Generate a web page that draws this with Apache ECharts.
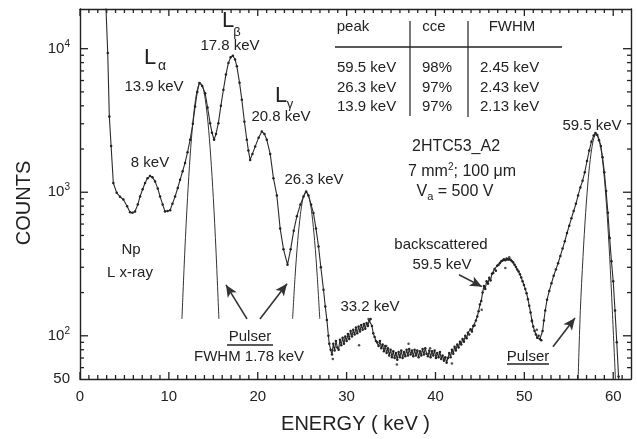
<!DOCTYPE html>
<html>
<head>
<meta charset="utf-8">
<script src="https://cdn.jsdelivr.net/npm/echarts@6/dist/echarts.min.js"></script>
<style>
html,body{margin:0;padding:0;background:#fff;}
#chart{width:637px;height:439px;}
</style>
</head>
<body>
<div id="chart"></div>
<script>
// ---------------- DATA ----------------
const spectrumE = [2.8, 3.12, 3.3, 3.5, 3.75, 4.13, 4.5, 4.88, 5.3, 5.63, 5.9, 6.19, 6.5, 6.76, 7.05, 7.32, 7.6, 7.88, 8.15, 8.45, 8.75, 9.01, 9.3, 9.57, 9.85, 10.14, 10.4, 10.7, 11.0, 11.26, 11.55, 11.82, 12.1, 12.39, 12.7, 12.95, 13.2, 13.43, 13.75, 14.08, 14.35, 14.64, 14.85, 15.09, 15.3, 15.57, 15.85, 16.14, 16.42, 16.7, 16.95, 17.2, 17.45, 17.65, 17.95, 18.21, 18.5, 18.77, 18.95, 19.14, 19.4, 19.71, 20.1, 20.46, 20.75, 21.02, 21.4, 21.77, 22.15, 22.52, 22.9, 23.35, 23.7, 24.05, 24.4, 24.8, 25.15, 25.45, 25.7, 26.0, 26.27, 26.55, 26.84, 27.1, 27.4, 27.6, 27.78,
  27.95, 28.05, 28.2, 28.35, 28.5, 28.65, 28.8, 28.95, 29.1, 29.25, 29.4, 29.55, 29.7, 29.85, 30.0, 30.15, 30.3, 30.45, 30.6, 30.75, 30.9, 31.05, 31.2, 31.35, 31.5, 31.65, 31.8, 31.95, 32.1, 32.25, 32.4, 32.55, 32.7, 32.85, 33.0, 33.15, 33.3, 33.45, 33.6, 33.75, 33.9, 34.05, 34.2, 34.35, 34.5, 34.65, 34.8, 34.95, 35.1, 35.25, 35.4, 35.55, 35.7, 35.85, 36.0, 36.15, 36.3, 36.45, 36.6, 36.75, 36.9, 37.05, 37.2, 37.35, 37.5, 37.65, 37.8, 37.95, 38.1, 38.25, 38.4, 38.55, 38.7, 38.85, 39.0, 39.15, 39.3, 39.45, 39.6, 39.75, 39.9, 40.05, 40.2, 40.35, 40.5, 40.65, 40.8, 40.95, 41.1, 41.25, 41.4, 41.55, 41.7, 41.85, 42.0, 42.15, 42.3, 42.45, 42.6, 42.75, 42.9, 43.05, 43.2, 43.35, 43.5, 43.65, 43.8, 43.95, 44.1, 44.25, 44.4, 44.55, 44.7, 44.85, 45.0, 45.15, 45.3, 45.45, 45.6, 45.75, 45.9, 46.05, 46.2, 46.35, 46.5, 46.65, 46.8, 46.95, 47.1, 47.25, 47.4, 47.55, 47.7, 47.85, 48.0, 48.15, 48.3, 48.45, 48.6, 48.75, 48.9, 49.05, 49.2, 49.35, 49.5, 49.65, 49.8, 49.95, 50.1, 50.25, 50.4, 50.55, 50.7, 50.85, 51.0, 51.15, 51.3, 51.45, 51.6, 51.75, 51.9, 52.05, 52.2, 52.35, 52.55, 52.8, 53.05, 53.3, 53.55, 53.8, 54.05, 54.3, 54.55, 54.8, 55.05, 55.3, 55.55, 55.8, 56.05, 56.3, 56.55, 56.8, 57.05, 57.3, 57.55, 57.8, 58.0, 58.2, 58.4, 58.6, 58.8, 59.0, 59.2, 59.4, 59.6, 59.8, 60.0, 60.2, 60.4, 60.6, 60.8];
const spectrumCounts = [30000, 9330, 3370, 2100, 1160, 990, 930, 890, 800, 725, 720, 735, 820, 935, 1050, 1160, 1250, 1300, 1270, 1190, 1060, 935, 820, 735, 740, 750, 830, 935, 1070, 1220, 1400, 1600, 1900, 2320, 3000, 3960, 5000, 5770, 5500, 4900, 3900, 3030, 2600, 2320, 2550, 3030, 4000, 5180, 6600, 7950, 8700, 8940, 8400, 7530, 5800, 4410, 3100, 2320, 1950, 1680, 1850, 2080, 2400, 2650, 2550, 2320, 1850, 1250, 950, 560, 400, 313, 400, 540, 680, 820, 935, 1013, 950, 820, 716, 560, 418, 300, 209, 160, 129,
  100, 88, 80, 74, 88, 79, 92, 83, 80, 94, 86, 97, 88, 99, 92, 103, 95, 108, 99, 110, 102, 114, 104, 116, 107, 119, 110, 121, 112, 123, 117, 128, 131, 117, 104, 98, 92, 90, 85, 92, 82, 87, 78, 85, 76, 82, 73, 80, 71, 78, 70, 76, 68, 77, 71, 79, 70, 77, 72, 80, 73, 81, 74, 79, 72, 80, 73, 79, 71, 78, 73, 81, 74, 82, 75, 72, 79, 71, 78, 73, 79, 70, 76, 71, 77, 69, 73, 67, 71, 65, 70, 76, 71, 80, 75, 84, 79, 87, 83, 91, 87, 95, 91, 100, 96, 105, 102, 111, 107, 117, 118, 128, 136, 148, 165, 175, 200, 222, 212, 240, 230, 254, 243, 270, 274, 292, 284, 308, 312, 322, 330, 335, 341, 336, 345, 340, 342, 338, 330, 324, 312, 301, 290, 280, 268, 255, 240, 226, 212, 198, 180, 162, 145, 128, 116, 108, 102, 97, 100, 95, 93, 108, 128, 150, 178, 205, 232, 262, 290, 320, 360, 405, 455, 520, 585, 660, 740, 830, 950, 1080, 1200, 1380, 1650, 1950, 2250, 2480, 2590, 2500, 2300, 2100, 1750, 1380, 1020, 720, 480, 330, 240, 150, 90, 52, 32];

const strayE = [28.45, 31.4, 32.47, 34.46, 35.66, 36.97, 39.4, 41.85, 45.2, 47.86, 48.3, 50.86, 51.4];
const strayCounts = [69, 86, 131, 85, 63, 88, 82, 64, 152, 297, 352, 126, 110];

const pulserLaE = [11.47, 11.8, 12.1, 12.4, 12.7, 13.0, 13.3, 13.55, 13.8, 14.1, 14.4, 14.7, 15.0, 15.3, 15.63];
const pulserLaCounts = [131, 396, 917, 1814, 3066, 4430, 5465, 5770, 5465, 4430, 3066, 1814, 917, 396, 131];
const pulser26E = [23.92, 24.2, 24.5, 24.8, 25.1, 25.45, 25.8, 26.1, 26.4, 26.7, 26.98];
const pulser26Counts = [131, 258, 460, 700, 910, 1013, 910, 700, 460, 258, 131];
const pulser59E = [56.05, 56.3, 56.6, 56.9, 57.2, 57.5, 57.8, 58.1, 58.4, 58.7, 59.0, 59.3, 59.6, 59.9, 60.25];
const pulser59Counts = [50, 150, 356, 724, 1260, 1860, 2356, 2550, 2356, 1860, 1260, 724, 356, 150, 50];

const xMajorTicks = [0, 10, 20, 30, 40, 50, 60];
const xMinorTicks = [1,2,3,4,5,6,7,8,9,11,12,13,14,15,16,17,18,19,21,22,23,24,25,26,27,28,29,31,32,33,34,35,36,37,38,39,41,42,43,44,45,46,47,48,49,51,52,53,54,55,56,57,58,59,61];
const yLabelValues = [50, 100, 1000, 10000];
const yMajorTicks = [100, 1000, 10000];
const yMinorTicks = [60,70,80,90,200,300,400,500,600,700,800,900,2000,3000,4000,5000,6000,7000,8000,9000];

// arrows: [tailE, tailCounts, headE, headCounts]
const arrows = [
  [18.79, 131, 16.43, 226],
  [20.25, 131, 23.29, 230],
  [42.65, 266, 45.23, 220],
  [53.22, 84, 55.70, 133]
];

// ---------------- CHART ----------------
const FONT = "'Liberation Sans', Arial, Helvetica, sans-serif";
const INK = '#222';
const X_MIN = 0, X_MAX = 62, Y_MIN = 50, Y_MAX = 18900;
const zip = (a, b) => a.map((v, i) => [v, b[i]]);

function xFrame(pos, opts) {
  return Object.assign({
    type: 'value', min: X_MIN, max: X_MAX, position: pos, gridIndex: 0,
    axisLine: { show: true, onZero: false, lineStyle: { color: INK, width: 1.4 } },
    axisTick: { show: false }, axisLabel: { show: false }, splitLine: { show: false }
  }, opts || {});
}
function yFrame(pos, opts) {
  return Object.assign({
    type: 'log', logBase: 10, min: Y_MIN, max: Y_MAX, position: pos, gridIndex: 0,
    axisLine: { show: true, onZero: false, lineStyle: { color: INK, width: 1.4 } },
    axisTick: { show: false }, axisLabel: { show: false }, splitLine: { show: false }, minorTick: { show: false }
  }, opts || {});
}

// inward tick marks on all four sides, positioned through the axes' own scales
function tickSeries(values, isX, len) {
  return {
    type: 'custom', coordinateSystem: 'cartesian2d', xAxisIndex: 0, yAxisIndex: 0,
    silent: true, clip: false, z: 4, animation: false,
    data: values.map(v => isX ? [v, Y_MIN] : [X_MIN, v]),
    renderItem: function (params, api) {
      const v = api.value(isX ? 0 : 1);
      const style = { stroke: '#222', lineWidth: 1.3, fill: null };
      if (isX) {
        const b = api.coord([v, Y_MIN]);
        const t = api.coord([v, Y_MAX]);
        return { type: 'group', children: [
          { type: 'line', shape: { x1: b[0], y1: b[1], x2: b[0], y2: b[1] - len }, style: style },
          { type: 'line', shape: { x1: t[0], y1: t[1], x2: t[0], y2: t[1] + len }, style: style }
        ] };
      }
      const l = api.coord([X_MIN, v]);
      const r = api.coord([X_MAX, v]);
      return { type: 'group', children: [
        { type: 'line', shape: { x1: l[0], y1: l[1], x2: l[0] + len, y2: l[1] }, style: style },
        { type: 'line', shape: { x1: r[0], y1: r[1], x2: r[0] - len, y2: r[1] }, style: style }
      ] };
    }
  };
}

const chart = echarts.init(document.getElementById('chart'), null, { renderer: 'canvas' });

function t(x, y, text, size, align) {
  return {
    type: 'text', x: x, y: y, silent: true,
    style: { text: text, fill: INK, fontSize: size || 15, fontFamily: FONT, align: align || 'center', verticalAlign: 'middle' }
  };
}
function ln(x1, y1, x2, y2, w) {
  return { type: 'line', silent: true, shape: { x1: x1, y1: y1, x2: x2, y2: y2 }, style: { stroke: INK, lineWidth: w || 1.2 } };
}

const countsTitle = t(24, 203, 'COUNTS', 20);
countsTitle.rotation = Math.PI / 2;

const graphics = [
  t(150, 163, '8 keV'),
  t(150, 58, 'L', 22), t(162, 66, 'α', 14),
  t(154, 87, '13.9 keV'),
  t(228, 21, 'L', 22), t(237, 32, 'β', 13),
  t(230, 46, '17.8 keV'),
  t(281, 96, 'L', 22), t(290, 104, 'γ', 13),
  t(281, 117, '20.8 keV'),
  t(314, 180, '26.3 keV'),
  t(131, 250, 'Np'),
  t(130, 273, 'L x-ray'),
  t(250, 337, 'Pulser'), ln(227, 345, 273, 345, 1.5),
  t(249, 357, 'FWHM 1.78 keV'),
  t(370, 307, '33.2 keV'),
  t(441, 245, 'backscattered'),
  t(442, 265, '59.5 keV'),
  t(528, 357, 'Pulser'), ln(507, 364, 549, 364, 1.5),
  t(592, 126, '59.5 keV'),
  // table
  t(353, 27, 'peak'), t(434, 27, 'cce'), t(512, 27, 'FWHM'),
  ln(335, 47, 562, 47, 1.6),
  ln(410, 21, 410, 116, 1.2), ln(468, 21, 468, 117, 1.2),
  t(337, 68, '59.5 keV', 15, 'left'), t(337, 88, '26.3 keV', 15, 'left'), t(337, 107, '13.9 keV', 15, 'left'),
  t(422, 68, '98%', 15, 'left'), t(422, 88, '97%', 15, 'left'), t(422, 107, '97%', 15, 'left'),
  t(480, 68, '2.45 keV', 15, 'left'), t(480, 88, '2.43 keV', 15, 'left'), t(480, 107, '2.13 keV', 15, 'left'),
  t(456, 147, '2HTC53_A2', 16),
  { type: 'text', x: 462, y: 172, silent: true, style: {
      text: '{n|7 mm}{s|2}{n|; 100 μm}', align: 'center', verticalAlign: 'middle', fill: INK,
      rich: { n: { fontSize: 16, fontFamily: FONT, fill: INK }, s: { fontSize: 10, fontFamily: FONT, fill: INK, padding: [0, 0, 9, 0] } } } },
  { type: 'text', x: 455, y: 192, silent: true, style: {
      text: '{n|V}{s|a}{n| = 500 V}', align: 'center', verticalAlign: 'middle', fill: INK,
      rich: { n: { fontSize: 16, fontFamily: FONT, fill: INK }, s: { fontSize: 11, fontFamily: FONT, fill: INK, padding: [10, 0, 0, 0] } } } },
  countsTitle
];

const option = {
  animation: false,
  grid: { left: 80, top: 9, width: 551, height: 370 },
  xAxis: [
    xFrame('bottom', {
      axisLabel: { show: true, customValues: xMajorTicks, fontSize: 15, fontFamily: FONT, color: INK, margin: 10 },
      name: 'ENERGY ( keV )', nameLocation: 'middle', nameGap: 35,
      nameTextStyle: { fontSize: 20, fontFamily: FONT, color: INK }
    }),
    xFrame('top')
  ],
  yAxis: [
    yFrame('left', {
      axisLabel: {
        show: true, customValues: yLabelValues, margin: 10, color: INK,
        formatter: function (v) {
          if (v < 99) return '{n|50}';
          return '{n|10}{s|' + Math.round(Math.log10(v)) + '}';
        },
        rich: {
          n: { fontSize: 15, fontFamily: FONT, color: INK },
          s: { fontSize: 10, fontFamily: FONT, color: INK, padding: [0, 0, 9, 0] }
        }
      }
    }),
    yFrame('right')
  ],
  series: [
    tickSeries(xMajorTicks, true, 7),
    tickSeries(xMinorTicks, true, 4),
    tickSeries(yMajorTicks, false, 8),
    tickSeries(yMinorTicks, false, 4),
    {
      name: 'pulser La', type: 'line', data: zip(pulserLaE, pulserLaCounts),
      showSymbol: false, smooth: 0.3, clip: true,
      lineStyle: { color: '#333', width: 1 }, silent: true
    },
    {
      name: 'pulser 26', type: 'line', data: zip(pulser26E, pulser26Counts),
      showSymbol: false, smooth: 0.3, clip: true,
      lineStyle: { color: '#333', width: 1 }, silent: true
    },
    {
      name: 'pulser 59', type: 'line', data: zip(pulser59E, pulser59Counts),
      showSymbol: false, smooth: 0.3, clip: true,
      lineStyle: { color: '#333', width: 1 }, silent: true
    },
    {
      name: 'spectrum', type: 'line', data: zip(spectrumE, spectrumCounts),
      showSymbol: true, showAllSymbol: true, symbol: 'circle', symbolSize: 2.5, clip: true,
      itemStyle: { color: '#222' },
      lineStyle: { color: '#2a2a2a', width: 1.1 }, silent: true
    },
    {
      name: 'stray', type: 'scatter', data: zip(strayE, strayCounts),
      symbol: 'circle', symbolSize: 2.5, itemStyle: { color: '#222' }, silent: true,
      markLine: {
        silent: true, symbol: ['none', 'arrow'], symbolSize: [8, 12],
        label: { show: false },
        lineStyle: { color: '#333', width: 1.6, type: 'solid' },
        emphasis: { disabled: true },
        data: arrows.map(a => [{ coord: [a[0], a[1]] }, { coord: [a[2], a[3]] }])
      }
    }
  ],
  graphic: graphics
};
chart.setOption(option);
</script>
</body>
</html>
